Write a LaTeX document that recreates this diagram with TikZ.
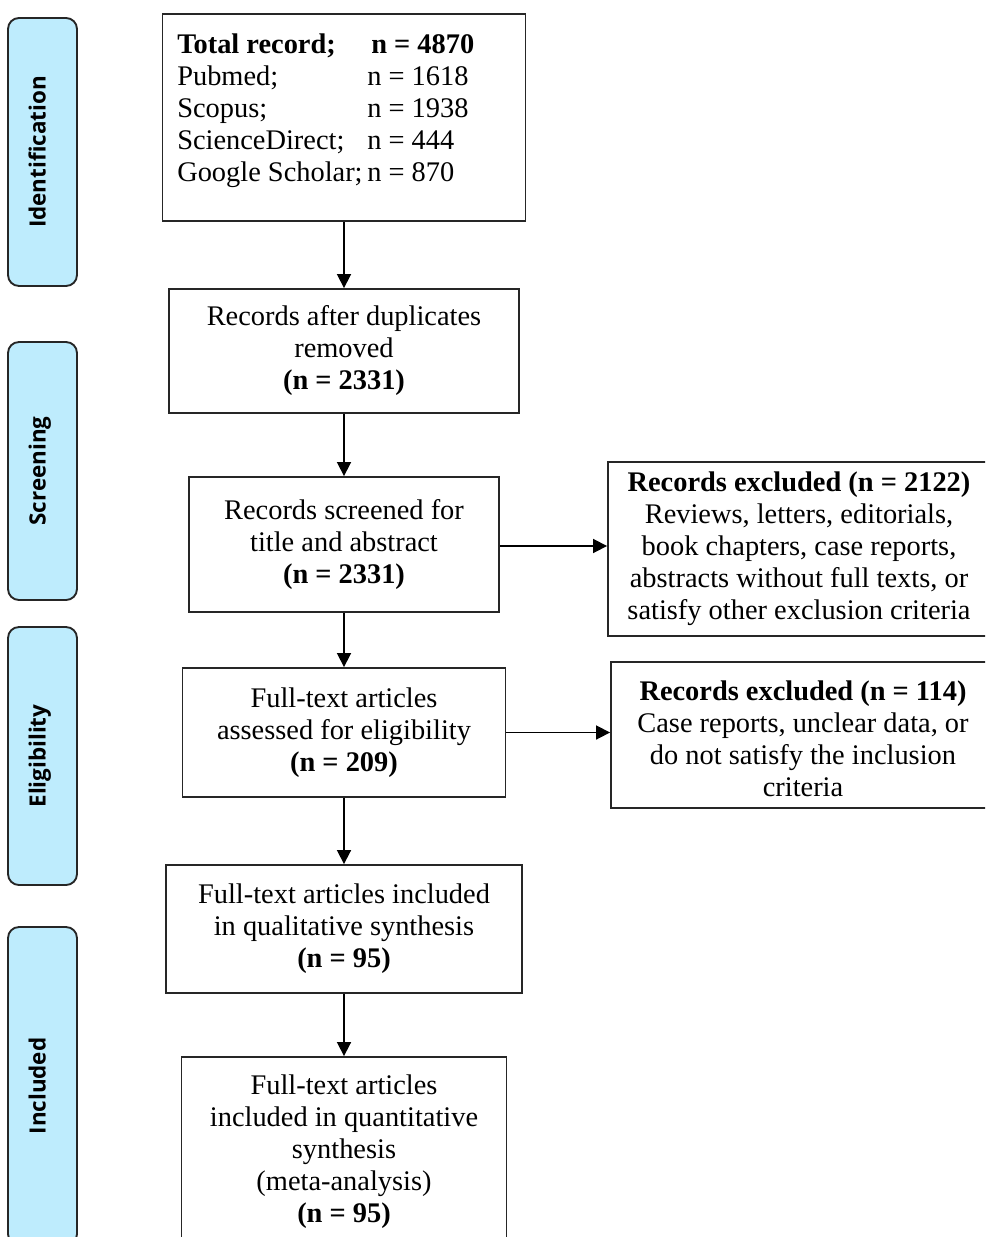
\documentclass[tikz,border=0pt]{standalone}
\usepackage{fontspec}
\setmainfont{Liberation Serif}
\newfontfamily\labfont{Open Sans}
\usetikzlibrary{arrows.meta}
\newdimen\pxd \pxd=0.75pt
\definecolor{sideblue}{RGB}{190,236,253}
\tikzset{
  box/.style={draw=black!85, line width=1.4pt, fill=white, inner sep=0pt, align=center,
    font=\fontsize{21.3}{24}\selectfont, execute at begin node={\rule{0pt}{0.85em}}},
  side/.style={draw=black!85, line width=1.4pt, fill=sideblue, rounded corners=11\pxd, inner sep=0pt},
  lab/.style={rotate=90, anchor=base, inner sep=0pt, font=\labfont\bfseries\fontsize{16.8}{18}\selectfont},
  arr/.style={-{Triangle[length=10.5pt,width=10.5pt]}, line width=1.3pt},
}
\begin{document}
\begin{tikzpicture}[x=0.75pt,y=-0.75pt]
\useasboundingbox (0,0) rectangle (985,1237);
\clip (0,0) rectangle (985,1237);
\fill[white] (0,0) rectangle (985,1237);

% side stage boxes
\node[side, minimum width=69\pxd, minimum height=268\pxd] (s1) at (42.5,152) {};
\node[side, minimum width=69\pxd, minimum height=258\pxd] (s2) at (42.5,471) {};
\node[side, minimum width=69\pxd, minimum height=258\pxd] (s3) at (42.5,756) {};
\node[side, minimum width=69\pxd, minimum height=318\pxd] (s4) at (42.5,1086) {};
\node[lab] (l1) at (45.5,152) {Identification};
\node[lab] (l2) at (45.5,471) {Screening};
\node[lab] (l3) at (45.5,756) {Eligibility};
\node[lab] (l4) at (45.5,1086) {Included};

% main boxes
\node[draw=black!85, line width=1.4pt, fill=white, inner sep=0pt, minimum width=363\pxd, minimum height=207\pxd] (b1) at (344,117.5) {};
\node[anchor=north west, align=left, inner sep=0pt, font=\fontsize{21.3}{24}\selectfont] (b1t) at (177,34)
 {\makebox[142.5pt][l]{\bfseries Total record;}\hspace{3pt}\textbf{n = 4870}\\
  \makebox[142.5pt][l]{Pubmed;}n = 1618\\
  \makebox[142.5pt][l]{Scopus;}n = 1938\\
  \makebox[142.5pt][l]{ScienceDirect;}n = 444\\
  \makebox[142.5pt][l]{Google Scholar;}n = 870};

\node[box, minimum width=350\pxd, minimum height=124\pxd] (b2) at (344,351)
 {Records after duplicates\\ removed\\ \textbf{(n = 2331)}};
\node[box, minimum width=310\pxd, minimum height=135\pxd] (b3) at (344,544.5)
 {Records screened for\\ title and abstract\\ \textbf{(n = 2331)}};
\node[box, minimum width=323\pxd, minimum height=129\pxd] (b4) at (344,732.5)
 {Full-text articles\\ assessed for eligibility\\ \textbf{(n = 209)}};
\node[box, minimum width=356\pxd, minimum height=128\pxd] (b5) at (344,929)
 {Full-text articles included\\ in qualitative synthesis\\ \textbf{(n = 95)}};
\node[box, minimum width=325\pxd, minimum height=190\pxd] (b6) at (344,1152)
 {Full-text articles\\ included in quantitative\\ synthesis\\ (meta-analysis)\\ \textbf{(n = 95)}};

% exclusion boxes
\node[box, minimum width=382\pxd, minimum height=174\pxd] (e1) at (799,549)
 {\textbf{Records excluded (n = 2122)}\\ Reviews, letters, editorials,\\ book chapters, case reports,\\ abstracts without full texts, or\\ satisfy other exclusion criteria};
\node[box, minimum width=384\pxd, minimum height=146\pxd] (e2) at (803,735)
 {\rule{0pt}{0.95em}\textbf{Records excluded (n = 114)}\\ Case reports, unclear data, or\\ do not satisfy the inclusion\\ criteria};

% connectors
\draw[arr] (b1.south) -- (b2.north);
\draw[arr] (b2.south) -- (b3.north);
\draw[arr] (b3.south) -- (b4.north);
\draw[arr] (b4.south) -- (b5.north);
\draw[arr] (b5.south) -- (b6.north);
\draw[arr] ([yshift=-1.5\pxd]b3.east) -- ([yshift=-1.5\pxd]b3.east -| e1.west);
\draw[arr] (b4.east) -- (b4.east -| e2.west);
\end{tikzpicture}
\end{document}
